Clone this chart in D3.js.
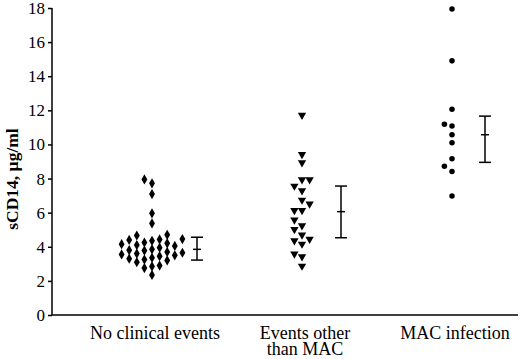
<!DOCTYPE html>
<html>

<head>
    <meta charset=utf-8 />
    <script src="https://cdn.jsdelivr.net/npm/d3@7"></script>
    <title>sCD14 by group</title>
    <style>
        html,
        body {
            margin: 0;
            background: #fff;
        }

        text {
            font-family: "Liberation Serif", "Times New Roman", serif;
        }
    </style>
</head>

<body>
    <div id="svg-canvas"></div>
    <script>
        // data
        var categories = ['No clinical events', 'Events other\nthan MAC', 'MAC infection'];
        var noEvents = [7.95, 7.72, 7.09, 5.96, 5.37, 4.70, 4.66, 4.50, 4.45, 4.43, 4.40, 4.35, 4.25,
            4.20, 4.15, 4.10, 4.05, 3.95, 3.85, 3.80, 3.78, 3.70, 3.65, 3.60, 3.55, 3.50, 3.45,
            3.35, 3.30, 3.25, 3.20, 3.10, 2.90, 2.85, 2.75, 2.35];
        var otherEvents = [11.72, 9.42, 8.93, 7.94, 7.94, 7.56, 7.29, 6.74, 6.51, 6.13, 6.13, 5.57,
            5.24, 5.02, 4.69, 4.45, 4.36, 4.16, 3.58, 3.42, 2.87];
        var macInfection = [17.94, 14.9, 12.07, 11.18, 11.08, 10.57, 10.1, 9.16, 8.72, 8.42, 6.98];
        var groupMean = [3.85, 6.06, 10.57];
        var groupLow = [3.22, 4.53, 8.95];
        var groupHigh = [4.56, 7.56, 11.66];
        var yTicks = [0, 2, 4, 6, 8, 10, 12, 14, 16, 18];

        var groups = [noEvents, otherEvents, macInfection];
        var shapes = [d3.symbolDiamond, d3.symbolTriangle, d3.symbolCircle];
        var sizes = [30, 30, 24];

        var width = 520, height = 359;
        var svg = d3.select('#svg-canvas').append('svg')
            .attr('width', width)
            .attr('height', height);

        var x = d3.scalePoint().domain(d3.range(3)).range([152, 452]);
        var xErr = d3.scalePoint().domain(d3.range(3)).range([197, 485]);
        var y = d3.scaleLinear().domain([0, 18]).range([315, 8]);

        // y axis
        var axisY = svg.append('g')
            .attr('transform', 'translate(52,0)')
            .call(d3.axisLeft(y).tickValues(yTicks).tickSize(4).tickPadding(3));
        axisY.select('.domain').attr('stroke', '#000').attr('stroke-width', 1.5).attr('d', 'M0,' + y(18) + 'V' + y(0));
        axisY.selectAll('.tick line').attr('stroke-width', 1.5);
        axisY.selectAll('.tick text').attr('font-size', 17).attr('fill', '#000');

        // x axis line
        svg.append('line')
            .attr('x1', 52).attr('x2', 518)
            .attr('y1', y(0)).attr('y2', y(0))
            .attr('stroke', '#000').attr('stroke-width', 1.5);

        svg.append('text')
            .attr('transform', 'translate(18,179) rotate(-90)')
            .attr('text-anchor', 'middle')
            .attr('font-size', 17.5)
            .attr('font-weight', 'bold')
            .text('sCD14, µg/ml');

        // category labels
        categories.forEach(function (c, i) {
            var t = svg.append('text')
                .attr('text-anchor', 'middle')
                .attr('font-size', 18)
                .attr('x', x(i) + 3)
                .attr('y', 339);
            c.split('\n').forEach(function (line, j) {
                t.append('tspan').attr('x', x(i) + 3).attr('dy', j ? 16 : 0).text(line);
            });
        });

        // simple dodge layout so points with close values sit side by side
        function dodge(values) {
            var step = 7.6, placed = [];
            var sorted = values.slice().sort(d3.ascending);
            sorted.forEach(function (v) {
                var py = y(v);
                var order = [0, -1, 1, -2, 2, -3, 3, -4, 4];
                for (var k = 0; k < order.length; k++) {
                    var col = order[k];
                    var hit = placed.some(function (p) {
                        return p.col === col && Math.abs(p.py - py) < 8;
                    });
                    if (!hit) {
                        placed.push({ v: v, py: py, col: col });
                        break;
                    }
                }
            });
            return placed.map(function (p) { p.dx = p.col * step; return p; });
        }

        groups.forEach(function (vals, i) {
            svg.append('g').selectAll('path')
                .data(dodge(vals))
                .join('path')
                .attr('d', d3.symbol().type(shapes[i]).size(sizes[i]))
                .attr('transform', function (d) {
                    var rot = i === 1 ? ' rotate(180)' : '';
                    return 'translate(' + (x(i) + d.dx) + ',' + y(d.v) + ')' + rot;
                })
                .attr('fill', '#000');
        });

        // error bars
        var bars = svg.append('g').attr('stroke', '#000').attr('stroke-width', 1.5);
        d3.range(3).forEach(function (i) {
            var cx = xErr(i);
            bars.append('line').attr('x1', cx).attr('x2', cx).attr('y1', y(groupLow[i])).attr('y2', y(groupHigh[i]));
            bars.append('line').attr('x1', cx - 6).attr('x2', cx + 6).attr('y1', y(groupLow[i])).attr('y2', y(groupLow[i]));
            bars.append('line').attr('x1', cx - 6).attr('x2', cx + 6).attr('y1', y(groupHigh[i])).attr('y2', y(groupHigh[i]));
            bars.append('line').attr('x1', cx - 4).attr('x2', cx + 4).attr('y1', y(groupMean[i])).attr('y2', y(groupMean[i]));
        });
    </script>
</body>

</html>
